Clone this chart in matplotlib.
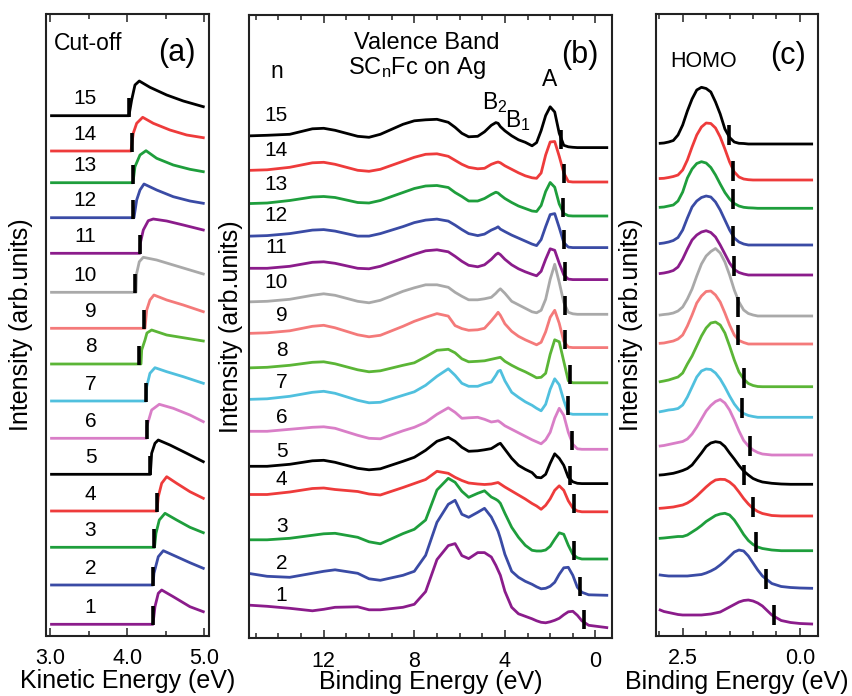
import numpy as np
import matplotlib
matplotlib.use('Agg')
import matplotlib.pyplot as plt
from matplotlib.ticker import MultipleLocator, FixedLocator

plt.rcParams['font.family'] = ['Liberation Sans', 'DejaVu Sans']
plt.rcParams['mathtext.fontset'] = 'custom'
plt.rcParams['mathtext.rm'] = 'Liberation Sans'
plt.rcParams['mathtext.it'] = 'Liberation Sans:italic'

# ---------------- data ----------------
n_values = list(range(1, 16))
colors = ['#8B1C8B', '#3A4BA5', '#1E9E3C', '#EE3B3B', '#000000',
          '#D97EC7', '#50C0DE', '#5BB536', '#F47A7A', '#A9A9A9',
          '#8B1C8B', '#3A4BA5', '#1E9E3C', '#EE3B3B', '#000000']

# (a) secondary-electron cut-off, kinetic energy (eV) and intensity
a_offsets = [11.2, 50.5, 88.2, 124.5, 161.2, 197.2, 234.5, 271.5, 307.2,
             343.2, 382.2, 417.8, 452.8, 484.5, 519.8]
a_energy = [
    [3.02, 4.334, 4.36, 4.403, 4.447, 4.597, 4.813, 4.986],
    [3.02, 4.334, 4.347, 4.403, 4.468, 4.641, 4.813, 4.986],
    [3.02, 4.354, 4.373, 4.416, 4.49, 4.641, 4.813, 4.986],
    [3.02, 4.386, 4.403, 4.447, 4.512, 4.641, 4.813, 4.986],
    [3.02, 4.30, 4.317, 4.36, 4.403, 4.554, 4.771, 4.986],
    [3.02, 4.25, 4.253, 4.317, 4.416, 4.597, 4.813, 4.986],
    [3.02, 4.244, 4.253, 4.295, 4.36, 4.512, 4.727, 4.986],
    [3.02, 4.179, 4.188, 4.231, 4.256, 4.317, 4.512, 4.749, 4.986],
    [3.02, 4.231, 4.253, 4.295, 4.347, 4.512, 4.727, 4.986],
    [3.02, 4.114, 4.123, 4.157, 4.209, 4.382, 4.597, 4.813, 4.986],
    [3.02, 4.166, 4.17, 4.209, 4.273, 4.338, 4.512, 4.727, 4.986],
    [3.02, 4.088, 4.123, 4.166, 4.218, 4.382, 4.597, 4.813, 4.986],
    [3.02, 4.075, 4.101, 4.166, 4.244, 4.382, 4.597, 4.813, 4.986],
    [3.02, 4.049, 4.079, 4.123, 4.201, 4.338, 4.554, 4.771, 4.986],
    [3.02, 4.023, 4.058, 4.101, 4.157, 4.295, 4.512, 4.727, 4.986],
]
a_intensity = [
    [0, 0, 17.6, 31, 34.3, 27.6, 17.6, 12.6],
    [0, 0, 11.7, 28.3, 34.3, 28.3, 22.3, 16.7],
    [0, 0, 14, 27.3, 34, 27.3, 20, 14.6],
    [0, 0, 14.3, 27.7, 34.3, 27.7, 19.3, 12.7],
    [0, 0, 21, 31, 34.3, 29.3, 21, 12.6],
    [0, 0, 11.6, 28.3, 34, 30, 23.3, 16.6],
    [0, 0, 14.3, 27.7, 33.3, 29.3, 24.3, 17.7],
    [0, 0, 14, 24, 31, 34, 29, 26, 23],
    [0, 0, 18.3, 28.3, 33.3, 28.3, 23.3, 16.6],
    [0, 0, 19, 30.6, 35, 32.3, 27.3, 22.3, 18.3],
    [0, 0, 10, 23.3, 32.6, 34.3, 32.3, 28.3, 23.3],
    [0, 0, 17.7, 27.7, 33.7, 27.7, 21, 16.7, 14.4],
    [0, 0, 16, 27.7, 32, 24.4, 17.7, 13.4, 11],
    [0, 0, 17.7, 27.7, 33.7, 27.7, 21, 16, 13.3],
    [0, 0, 15.7, 30.7, 34.7, 28.4, 20.7, 14.7, 9.0],
]
a_cutoff = [4.33, 4.33, 4.351, 4.382, 4.295, 4.253, 4.240, 4.157, 4.218,
            4.101, 4.166, 4.079, 4.071, 4.058, 4.027]

# (b) valence band, binding energy (eV)
b_energy = [15.2, 14.5, 13.5, 12.5, 12.0, 11.5, 10.5, 10.0, 9.5, 8.5,
            8.0, 7.5, 7.0, 6.5, 6.2, 5.9, 5.6, 5.2, 4.9, 4.6,
            4.4, 4.3, 4.2, 4.0, 3.7, 3.4, 3.1, 2.8, 2.6, 2.4,
            2.2, 2.0, 1.8, 1.6, 1.4, 1.2, 1.0, 0.8, 0.6, 0.3, -0.5]
b_offsets = [10.7, 43, 79.3, 126.5, 154.7, 189, 224, 255.5, 290.7, 324,
             358.7, 390.7, 422.3, 456.3, 490.7]
b_intensity = [
    [22.3, 21.3, 19.3, 16.8, 18.3, 20.3, 20.8, 17.8, 17.8, 20.3,
     23.3, 36, 68, 82, 84, 72, 69, 75, 75, 70.6,
     62.3, 57.3, 52.3, 36.3, 20.3, 13.8, 11.3, 8.8, 6.8, 5.3,
     4.8, 5.8, 7.3, 9.3, 12.8, 15.8, 16.3, 12.3, 6.8, 2.3, 0],
    [21.5, 19, 18, 22, 24, 25.5, 22, 16.5, 15, 20,
     24, 40, 73, 91, 95, 81, 78, 83, 87, 78.3,
     69, 64, 57, 41, 24, 18, 14, 11, 8.5, 6.5,
     7, 9, 13, 21, 27.5, 28, 20, 8, 3, 0.5, 0],
    [19.2, 19.2, 20.7, 23.7, 25.2, 25.7, 21.7, 17.2, 15.2, 25.4,
     29.7, 39, 69, 80.7, 76.7, 67.7, 61.7, 65.7, 68.2, 62,
     59.7, 58.2, 55.7, 45.7, 31.7, 21.7, 13.7, 8.7, 8, 8,
     9, 12.7, 19.7, 26.2, 24.7, 13.7, 4.7, 1.2, 0, 0, 0],
    [17.3, 17.3, 19.8, 23.3, 23.8, 22.3, 20.3, 17.8, 16.8, 24.3,
     28.3, 32.3, 40.5, 38.5, 34.5, 31.3, 28.8, 27.8, 27.3, 27.8,
     28.8, 29.3, 27.8, 24.8, 20.8, 16.8, 12.8, 8.3, 5.8, 2.5,
     6.5, 13, 21.5, 26, 21.5, 11, 3.8, 0.8, 0, 0, 0],
    [17.3, 17.3, 19.3, 22.8, 23.3, 21.3, 15.3, 13.8, 14.8, 22.3,
     26.3, 33.3, 42.3, 46.3, 42.3, 36.3, 32.3, 32.8, 33.8, 35,
     37.8, 39.3, 40.3, 34.3, 25.3, 18.3, 14.3, 11, 6.3, 5.8,
     9.3, 20.3, 29.8, 25.3, 18.3, 6.3, 1.8, 0.3, 0, 0, 0],
    [18, 18, 20, 22, 22.5, 21, 14, 11, 10.5, 18.5,
     22, 27, 35, 41.5, 37, 31, 31.5, 32, 30, 27.3,
     28, 28.5, 27, 23.5, 20, 16.5, 13, 9.5, 7.5, 5.5,
     9.5, 17, 31, 41, 34, 17, 5, 0.5, 0, 0, 0],
    [15, 15.5, 18, 22, 23, 21, 14, 11.5, 12, 19,
     22.5, 29, 38, 45.5, 39, 31, 28, 28, 30.5, 32.3,
     39, 43, 44, 33.5, 22, 17, 12.5, 9, 6, 3.5,
     10, 25, 35.5, 29.5, 14, 1, 0, 0, 0, 0, 0],
    [15, 15.5, 17.5, 20.5, 21, 19, 13, 11, 12, 17.5,
     20, 26, 32.5, 33.5, 30, 24, 21, 21.5, 22, 23.5,
     24.5, 25, 25.5, 21.5, 17.5, 14, 11, 7.5, 5, 5.5,
     9.5, 28.5, 43, 41, 21.5, 2, 0, 0, 0, 0, 0],
    [14.3, 14.8, 16.8, 21.3, 22.3, 19.8, 12.8, 10.8, 12.3, 21.3,
     26.3, 30.3, 34, 31.5, 22, 19, 17.3, 17.8, 19.3, 26.8,
     32.3, 35.3, 32.3, 23.8, 16.3, 11.3, 7.8, 4.8, 2.8, 5.3,
     15.8, 30.3, 37.3, 24.3, 6.3, 0.5, 0, 0, 0, 0, 0],
    [12.5, 13, 15, 19, 20.5, 19, 13, 11.5, 14, 23,
     26.5, 29.5, 29.5, 27, 22, 18, 14.5, 14.5, 15.5, 17,
     21, 23.5, 25.5, 21, 13, 9.5, 6, 2.5, 1.5, 4,
     15, 35, 50, 32, 12, 2, 0.5, 0, 0, 0, 0],
    [11.3, 11.3, 13.3, 17.3, 17.8, 16.3, 11.3, 10.8, 13.3, 21.3,
     25.3, 28.8, 29.8, 27.8, 23.3, 18.3, 14.3, 12.8, 14.8, 20.3,
     25, 26.5, 25, 20.3, 14.8, 10.8, 7.8, 5.3, 3.8, 8.3,
     20.3, 30.8, 29.3, 16.3, 4.8, 0.5, 0, 0, 0, 0, 0],
    [11.5, 12, 14, 17.5, 18, 16.5, 11.5, 11.5, 14, 21,
     25, 27.5, 28.5, 26.5, 22.5, 18, 14, 12, 13.5, 17.5,
     19.5, 20.8, 18.5, 16, 12.5, 9.5, 6.5, 3.5, 2, 8,
     21, 33, 34, 20, 5, 0.5, 0, 0, 0, 0, 0],
    [12.5, 13, 15.5, 19, 19.5, 18.5, 13.5, 13, 15.5, 23.5,
     27.5, 30, 30.5, 28.5, 23.5, 19.5, 15, 15, 17.5, 21.5,
     23.8, 23, 21, 17.5, 13.5, 10, 7.5, 5, 4.5, 10.5,
     24.5, 33.5, 28.8, 12, 2.5, 0.3, 0, 0, 0, 0, 0],
    [11.7, 12.2, 14.7, 19.2, 19.7, 17.7, 11.7, 10.7, 12.7, 20.7,
     24.7, 27.7, 28.2, 25.7, 21.7, 17.7, 14.7, 13.2, 13.7, 17.7,
     19.4, 20, 19.2, 16.2, 12.7, 9.2, 6.2, 4.2, 3.7, 9,
     27, 40, 40.5, 25.7, 9.2, 0.5, 0, 0, 0, 0, 0],
    [11.8, 12.3, 13.3, 18.8, 19.3, 17.3, 11.3, 10.3, 13.3, 23.3,
     26.8, 27.8, 28.3, 25.3, 20.3, 14.3, 10.8, 11.3, 15.8, 22.3,
     25, 24.3, 21, 16.8, 11.8, 7.8, 5.3, 1.8, 5, 17,
     32, 40.8, 35.6, 14.3, 2.3, 0.8, 0.3, 0, 0, 0, 0],
]
b_onset = [0.52, 0.70, 0.96, 0.95, 1.14, 1.04, 1.21, 1.14, 1.33, 1.33,
           1.36, 1.39, 1.43, 1.39, 1.51]

# (c) HOMO region, binding energy (eV)
c_energy = [2.98, 2.9, 2.8, 2.7, 2.6, 2.5, 2.4, 2.3, 2.2, 2.1,
            2.0, 1.9, 1.8, 1.7, 1.6, 1.5, 1.4, 1.3, 1.2, 1.1,
            1.0, 0.9, 0.8, 0.6, 0.4, 0.2, 0.0, -0.25]
c_offsets = [12, 47.7, 85.3, 120, 151.7, 181, 218.7, 249.3, 292, 320,
             361, 391, 427.7, 456, 492]
c_intensity = [
    [14, 12.5, 11.5, 10.5, 9.5, 9, 9, 9, 9, 9, 9.5, 10, 11, 12, 14.5, 17, 19.5, 22, 23.5, 24, 23, 21, 18, 9, 3.5, 1.5, 0.5, 0],
    [13.3, 12.8, 12.3, 12.3, 12.3, 12.3, 12.3, 12.8, 13.3, 13.8, 15.3, 17.3, 19.8, 23.3, 27.3, 31.8, 36.3, 38.3, 37.3, 32.3, 25.3, 18.3, 12.3, 4.8, 1.8, 0.8, 0.3, 0],
    [12.4, 12.7, 13.2, 13.7, 14.2, 14.2, 15.7, 18.7, 21.7, 25.2, 29.2, 32.2, 35.2, 36.7, 37.4, 35.7, 30.7, 23.7, 16.2, 10.2, 6.2, 3.7, 2.2, 0.7, 0, 0, 0, 0],
    [7.7, 8, 8.5, 9, 10, 11, 13, 16, 20, 24.5, 29, 33, 36, 36.7, 36.5, 34, 30, 24, 17.5, 12, 7.5, 4.5, 2.5, 0.5, 0, 0, 0, 0],
    [9.3, 9.6, 10.3, 11, 12.3, 13.8, 15.8, 19.3, 25.3, 31.3, 37.8, 41.3, 42.6, 41.8, 37.8, 31.3, 25.3, 18.8, 13.3, 9.3, 5.8, 3.8, 2.3, 1, 0.3, 0, 0, 0],
    [9, 9.5, 10.5, 11.5, 12.5, 13.5, 16, 21, 28, 36, 44, 49.5, 53.5, 55.5, 52, 45, 35, 24, 14.5, 9, 5, 2.5, 1, 0, 0, 0, 0, 0],
    [5.6, 6.3, 7.3, 7.8, 8.8, 12.3, 20.3, 30.3, 40.3, 46.3, 48.3, 47.8, 44.3, 38.3, 30.3, 21.3, 13.3, 7.3, 3.8, 1.8, 0.8, 0, 0, 0, 0, 0, 0, 0],
    [5, 5.7, 6.7, 8.2, 9.7, 13.7, 22.7, 30.7, 40.7, 50.7, 58.7, 63.7, 64.7, 61.7, 53.7, 40.7, 26.7, 14.7, 7.7, 3.2, 1.2, 0.2, 0, 0, 0, 0, 0, 0],
    [0.7, 1, 2, 3, 5, 9, 18, 29, 41, 48, 52.5, 53, 49, 42, 31, 19, 9, 3.5, 1.5, 0, 0, 0, 0, 0, 0, 0, 0, 0],
    [1, 1.5, 2, 3, 5, 9, 17, 27, 40, 52, 60, 64.5, 67.5, 63, 54, 41, 26, 14, 6, 2.5, 1, 0, 0, 0, 0, 0, 0, 0],
    [1.5, 2, 3, 4.5, 8, 16, 26, 35, 40, 43, 44.3, 42.5, 38, 30, 21, 12, 5.5, 2.5, 1, 0, 0, 0, 0, 0, 0, 0, 0, 0],
    [1.5, 2, 3, 4.5, 7.5, 15, 27, 38, 44, 47.5, 49, 48, 43, 35, 25, 15, 7, 3, 1, 0, 0, 0, 0, 0, 0, 0, 0, 0],
    [1, 1.3, 2.3, 3.3, 7.3, 16.3, 30.3, 39.3, 44.8, 46.6, 45.3, 40.8, 33.3, 24.3, 15.8, 9.3, 4.8, 2.3, 1, 0.5, 0.3, 0, 0, 0, 0, 0, 0, 0],
    [1.5, 1.7, 2.5, 3.5, 5, 10, 20, 33, 45, 53, 57, 56.5, 52, 43, 31, 18, 8, 3, 1, 0.3, 0, 0, 0, 0, 0, 0, 0, 0],
    [0.7, 1, 2, 3.5, 9, 19, 33, 45, 54, 56.7, 55.5, 52, 42, 30, 15, 6.5, 2, 0.7, 0.5, 0, 0, 0, 0, 0, 0, 0, 0, 0],
]
c_onset = [0.547, 0.730, 0.944, 1.007, 1.187, 1.065, 1.242, 1.187, 1.327, 1.315,
           1.406, 1.434, 1.434, 1.434, 1.513]

# ---------------- figure ----------------
W, H = 853, 696
fig = plt.figure(figsize=(W / 100, H / 100), dpi=100)
axa = fig.add_axes([46.5 / W, 1 - 635.5 / H, 162.5 / W, 621.5 / H])
axb = fig.add_axes([249 / W, 1 - 638.3 / H, 363 / W, 623.3 / H])
axc = fig.add_axes([656 / W, 1 - 636 / H, 162 / W, 622 / H])

LW = 2.0
BAR_LW = 2.6
FRAME = '#222222'
TICK_FS = 15.5
LABEL_FS = 18
NUM_FS = 15
ANN_FS = 16.5
LET_FS = 22


def style(ax):
    for s in ax.spines.values():
        s.set_linewidth(1.5)
        s.set_color(FRAME)
    ax.tick_params(axis='x', which='both', direction='in', top=True, bottom=True,
                   color=FRAME, labelsize=TICK_FS, pad=9)
    ax.tick_params(axis='x', which='major', length=6, width=1.1)
    ax.tick_params(axis='x', which='minor', length=3.8, width=1.1)
    ax.tick_params(axis='y', which='both', left=False, right=False, labelleft=False)
    ax.set_ylabel('Intensity (arb.units)', fontsize=LABEL_FS)


# panel (a)
for i, n in enumerate(n_values):
    e = np.array(a_energy[i])
    y = np.array(a_intensity[i]) + a_offsets[i]
    axa.plot(e, y, color=colors[i], lw=LW, solid_joinstyle='round', zorder=2)
    axa.plot([a_cutoff[i], a_cutoff[i]], [a_offsets[i] - 1, a_offsets[i] + 18],
             color='black', lw=BAR_LW, solid_capstyle='butt', zorder=3)
    axa.text(3.60, a_offsets[i] + 17, str(n), ha='right', va='center', fontsize=NUM_FS)
axa.set_xlim(2.955, 5.06)
axa.set_ylim(0, 621.5)
style(axa)
axa.xaxis.set_major_locator(FixedLocator([3.0, 4.0, 5.0]))
axa.xaxis.set_minor_locator(FixedLocator([3.5, 4.5]))
axa.set_xticklabels(['3.0', '4.0', '5.0'])
axa.set_xlabel('Kinetic Energy (eV)', fontsize=LABEL_FS)
axa.xaxis.set_label_coords(0.5, -0.054)
axa.yaxis.set_label_coords(-0.082, 0.5)
axa.text(0.257, 0.953, 'Cut-off', transform=axa.transAxes, ha='center', va='center', fontsize=ANN_FS)
axa.text(0.80, 0.937, '(a)', transform=axa.transAxes, ha='center', va='center', fontsize=LET_FS)

# panel (b)
eb = np.array(b_energy)
for i, n in enumerate(n_values):
    y = np.array(b_intensity[i]) + b_offsets[i]
    axb.plot(eb, y, color=colors[i], lw=LW, solid_joinstyle='round', zorder=2)
    axb.plot([b_onset[i], b_onset[i]], [b_offsets[i] - 1, b_offsets[i] + 18],
             color='black', lw=BAR_LW, solid_capstyle='butt', zorder=3)
    axb.text(13.6, b_offsets[i] + 32, str(n), ha='right', va='center', fontsize=NUM_FS)
axb.set_xlim(15.3, -0.73)
axb.set_ylim(0, 623.3)
style(axb)
axb.xaxis.set_major_locator(FixedLocator([12, 8, 4, 0]))
axb.xaxis.set_minor_locator(MultipleLocator(1))
axb.set_xticklabels(['12', '8', '4', '0'])
axb.set_xlabel('Binding Energy (eV)', fontsize=LABEL_FS)
axb.xaxis.set_label_coords(0.5, -0.051)
axb.yaxis.set_label_coords(-0.017, 0.5)
axb.text(0.49, 0.955, 'Valence Band', transform=axb.transAxes, ha='center', va='center', fontsize=17)
axb.text(0.462, 0.915, r'SC$_\mathrm{n}$Fc on Ag', transform=axb.transAxes, ha='center', va='center', fontsize=17)
axb.text(0.076, 0.910, 'n', transform=axb.transAxes, ha='center', va='center', fontsize=ANN_FS)
axb.text(0.912, 0.936, '(b)', transform=axb.transAxes, ha='center', va='center', fontsize=LET_FS)
axb.text(0.829, 0.897, 'A', transform=axb.transAxes, ha='center', va='center', fontsize=ANN_FS)
axb.text(0.678, 0.860, r'B$_2$', transform=axb.transAxes, ha='center', va='center', fontsize=ANN_FS)
axb.text(0.740, 0.831, r'B$_1$', transform=axb.transAxes, ha='center', va='center', fontsize=ANN_FS)

# panel (c)
ec = np.array(c_energy)
for i, n in enumerate(n_values):
    y = np.array(c_intensity[i]) + c_offsets[i]
    axc.plot(ec, y, color=colors[i], lw=LW, solid_joinstyle='round', zorder=2)
    axc.plot([c_onset[i], c_onset[i]], [c_offsets[i] - 1, c_offsets[i] + 19],
             color='black', lw=BAR_LW, solid_capstyle='butt', zorder=3)
axc.set_xlim(3.069, -0.385)
axc.set_ylim(0, 622)
style(axc)
axc.xaxis.set_major_locator(FixedLocator([2.5, 0.0]))
axc.xaxis.set_minor_locator(MultipleLocator(0.5))
axc.set_xticklabels(['2.5', '0.0'])
axc.set_xlabel('Binding Energy (eV)', fontsize=LABEL_FS)
axc.xaxis.set_label_coords(0.5, -0.055)
axc.yaxis.set_label_coords(-0.080, 0.5)
axc.text(0.292, 0.924, 'HOMO', transform=axc.transAxes, ha='center', va='center', fontsize=15.5)
axc.text(0.815, 0.932, '(c)', transform=axc.transAxes, ha='center', va='center', fontsize=LET_FS)

fig.savefig('out.png', dpi=100)
